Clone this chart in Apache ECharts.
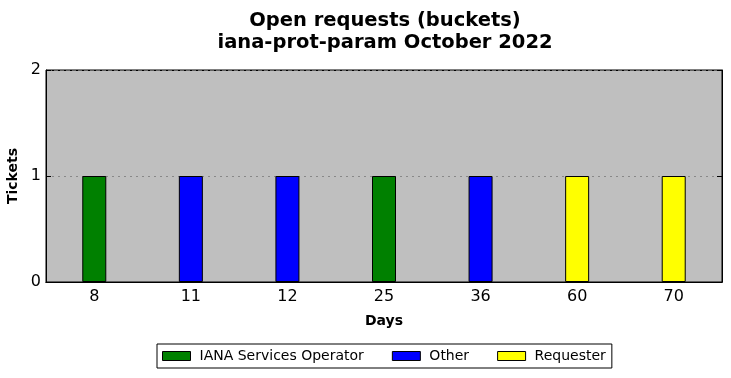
<!DOCTYPE html>
<html>
<head>
<meta charset="utf-8">
<script src="https://cdn.jsdelivr.net/npm/echarts@6/dist/echarts.min.js"></script>
<style>
html, body { margin: 0; padding: 0; background: #fff; }
#chart { width: 731px; height: 378px; }
</style>
</head>
<body>
<div id="chart"></div>
<script>
// bucket labels (days open)
const days = ['8', '11', '12', '25', '36', '60', '70'];
const yTicks = [0, 1, 2];
// tickets per bucket, one list per group
const ianaOperator = [1, null, null, 1, null, null, null];
const other = [null, 1, 1, null, 1, null, null];
const requester = [null, null, null, null, null, 1, 1];

const font = 'DejaVu Sans';
let chart = echarts.init(document.getElementById('chart'));

function barSeries(name, data, color) {
    return {
        name: name,
        type: 'bar',
        stack: 'all',
        barWidth: 24,
        data: data,
        itemStyle: { color: color, borderColor: '#000', borderWidth: 1 }
    };
}

let option = {
    animation: false,
    textStyle: { fontFamily: font },
    title: {
        text: 'Open requests (buckets)\niana-prot-param October 2022',
        // centred over the plot area, not the page
        left: 380,
        textAlign: 'center',
        top: 5,
        textStyle: { fontFamily: font, fontSize: 19.5, fontWeight: 'bold', color: '#000', lineHeight: 22 }
    },
    legend: {
        bottom: 10,
        left: 157,
        icon: 'rect',
        itemWidth: 28,
        itemHeight: 9,
        itemGap: 28,
        borderColor: '#000',
        borderWidth: 1,
        borderRadius: 0,
        padding: [5, 6, 5, 5],
        textStyle: { fontFamily: font, fontSize: 14, color: '#000', padding: [0, 0, 0, 4] },
        itemStyle: { borderColor: '#000', borderWidth: 1 }
    },
    grid: {
        left: 46, right: 9, top: 70, bottom: 96,
        outerBoundsMode: 'none',
        backgroundColor: '#bfbfbf', show: true, borderColor: '#000', borderWidth: 1
    },
    xAxis: [{
        type: 'category',
        data: days,
        name: 'Days',
        nameLocation: 'middle',
        nameGap: 32,
        nameTextStyle: { fontFamily: font, fontSize: 14, fontWeight: 'bold', color: '#000' },
        axisLine: { lineStyle: { color: '#000' } },
        axisTick: { inside: true, alignWithLabel: true, length: 5, lineStyle: { color: '#000' } },
        axisLabel: { fontFamily: font, fontSize: 16, color: '#000', margin: 7 }
    }, {
        type: 'category',
        data: days,
        position: 'top',
        axisLine: { lineStyle: { color: '#000' } },
        axisTick: { inside: true, alignWithLabel: true, length: 5, lineStyle: { color: '#000' } },
        axisLabel: { show: false }
    }],
    yAxis: [{
        type: 'value',
        min: yTicks[0],
        max: yTicks[yTicks.length - 1],
        interval: 1,
        name: 'Tickets',
        nameLocation: 'middle',
        nameGap: 21,
        nameTextStyle: { fontFamily: font, fontSize: 14, fontWeight: 'bold', color: '#000' },
        axisLine: { show: true, lineStyle: { color: '#000' } },
        axisTick: { show: true, inside: true, length: 5, lineStyle: { color: '#000' } },
        axisLabel: { fontFamily: font, fontSize: 16, color: '#000', margin: 5 },
        splitLine: { show: true, lineStyle: { color: ['#000', '#888', '#000'], type: [2, 4], width: 1 } }
    }, {
        type: 'value',
        min: yTicks[0],
        max: yTicks[yTicks.length - 1],
        interval: 1,
        position: 'right',
        axisLine: { show: true, lineStyle: { color: '#000' } },
        axisTick: { show: true, inside: true, length: 5, lineStyle: { color: '#000' } },
        axisLabel: { show: false },
        splitLine: { show: false }
    }],
    series: [
        barSeries('IANA Services Operator', ianaOperator, '#008000'),
        barSeries('Other', other, '#0000ff'),
        barSeries('Requester', requester, '#ffff00')
    ]
};
chart.setOption(option);
</script>
</body>
</html>
